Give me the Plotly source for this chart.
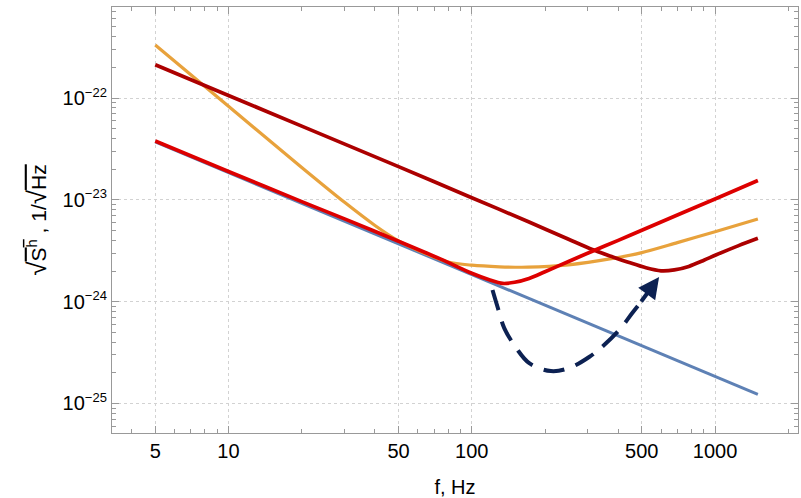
import numpy as np
import plotly.graph_objects as go

# ---- data ----
f_blue = [5, 10, 100, 1000, 1500]
s_blue = [3.7e-23, 1.85e-23, 1.85e-24, 1.85e-25, 1.23e-25]

f_orange = [5, 10, 20, 30, 40, 50, 60, 80, 100, 130, 170, 250, 380, 500, 700, 1000, 1500]
s_orange = [3.32e-22, 8.3e-23, 2.08e-23, 9.45e-24, 5.6e-24, 3.95e-24, 3.2e-24, 2.45e-24,
            2.28e-24, 2.2e-24, 2.18e-24, 2.3e-24, 2.66e-24, 3.03e-24, 3.8e-24, 4.86e-24, 6.47e-24]

f_darkred = [5, 10, 20, 50, 100, 172, 250, 313, 380, 444, 520, 600, 680, 780, 900, 1007, 1250, 1500]
s_darkred = [2.12e-22, 1.06e-22, 5.3e-23, 2.12e-23, 1.05e-23, 6.05e-24, 4.1e-24, 3.25e-24,
             2.75e-24, 2.42e-24, 2.15e-24, 2.01e-24, 2.05e-24, 2.22e-24, 2.55e-24, 2.87e-24,
             3.55e-24, 4.19e-24]

f_red = [5, 10, 20, 30, 50, 75, 100, 118, 134, 150, 172, 200, 250, 313, 400, 500, 700, 1000, 1500]
s_red = [3.78e-23, 1.9e-23, 9.6e-24, 6.5e-24, 3.92e-24, 2.6e-24, 1.9e-24, 1.64e-24, 1.51e-24,
         1.55e-24, 1.69e-24, 1.97e-24, 2.48e-24, 3.13e-24, 4.0e-24, 5.03e-24, 7.1e-24, 1.02e-23, 1.55e-23]

# dashed arrow path (last point = arrow tip)
arrow_f = [121.7, 128.8, 136, 152.4, 172.3, 211.4, 251.4, 303.8, 350, 410, 456, 492, 589]
arrow_s = [1.30e-24, 8.26e-25, 5.5e-25, 3.5e-25, 2.49e-25, 2.08e-25, 2.23e-25, 2.86e-25,
           3.75e-25, 5.5e-25, 7.7e-25, 9.7e-25, 1.745e-24]

x_ticks = [5, 10, 50, 100, 500, 1000]
y_ticks = [1e-25, 1e-24, 1e-23, 1e-22]
y_exps = ["−25", "−24", "−23", "−22"]
y_ticktext = ["10<sup><span style='font-size:13px'>%s</span></sup>" % e for e in y_exps]

FONT = "Liberation Sans, Arial, sans-serif"
BLUE = "#5E81B5"
ORANGE = "#E8A23C"
RED = "#DD0000"
DARKRED = "#AC0000"
NAVY = "#0C2152"

fig = go.Figure()
fig.add_trace(go.Scatter(x=f_blue, y=s_blue, mode="lines",
                         line=dict(color=BLUE, width=3)))
fig.add_trace(go.Scatter(x=f_orange, y=s_orange, mode="lines",
                         line=dict(color=ORANGE, width=3.2, shape="spline", smoothing=0.8)))
fig.add_trace(go.Scatter(x=f_darkred, y=s_darkred, mode="lines",
                         line=dict(color=DARKRED, width=3.7, shape="spline", smoothing=0.8)))
fig.add_trace(go.Scatter(x=f_red, y=s_red, mode="lines",
                         line=dict(color=RED, width=3.7, shape="spline", smoothing=0.8)))
fig.add_trace(go.Scatter(x=arrow_f[:-1], y=arrow_s[:-1], mode="lines",
                         line=dict(color=NAVY, width=4, shape="spline", smoothing=1,
                                   dash="21px,12px")))

fig.add_annotation(x=np.log10(arrow_f[-1]), y=np.log10(arrow_s[-1]),
                   ax=np.log10(arrow_f[-2]), ay=np.log10(arrow_s[-2]),
                   xref="x", yref="y", axref="x", ayref="y",
                   showarrow=True, arrowhead=2, arrowsize=1.05, arrowwidth=4,
                   arrowcolor=NAVY, text="")

minor_x = [m * 10 ** d for d in range(0, 4) for m in range(2, 10)]
minor_x = [v for v in minor_x if v not in x_ticks]
minor_y = [m * 10.0 ** d for d in range(-26, -21) for m in range(2, 10)]

axis_common = dict(showline=True, linecolor="#999999", linewidth=1.2, mirror="allticks",
                   ticks="inside", ticklen=7, tickcolor="#999999", tickwidth=1,
                   showgrid=True, gridcolor="#D2D2D2", gridwidth=1, griddash="3px,3px",
                   zeroline=False, tickfont=dict(family=FONT, size=20, color="black"))

fig.update_xaxes(type="log", range=[np.log10(3.32), np.log10(2193)],
                 tickmode="array", tickvals=x_ticks, ticktext=[str(v) for v in x_ticks],
                 minor=dict(tickmode="array", tickvals=minor_x, ticks="inside", ticklen=4,
                            tickcolor="#999999", showgrid=False),
                 title=dict(text="f, Hz", font=dict(family=FONT, size=20, color="black"),
                            standoff=18),
                 **axis_common)
fig.update_yaxes(type="log", range=[-25.29, -21.106],
                 tickmode="array", tickvals=y_ticks, ticktext=y_ticktext,
                 minor=dict(tickmode="array", tickvals=minor_y, ticks="inside", ticklen=4,
                            tickcolor="#999999", showgrid=False),
                 title=dict(text="<span style='font-size:26px'>√</span><span style='text-decoration:overline'>S<sup>h</sup></span> , 1/<span style='font-size:26px'>√</span><span style='text-decoration:overline'>Hz</span>",
                            font=dict(family=FONT, size=21, color="black"), standoff=10),
                 **axis_common)

fig.update_layout(width=801, height=498, showlegend=False,
                  margin=dict(l=112, r=3, t=7, b=65, autoexpand=False),
                  paper_bgcolor="white", plot_bgcolor="white",
                  font=dict(family=FONT))

fig.write_html("out.html")
